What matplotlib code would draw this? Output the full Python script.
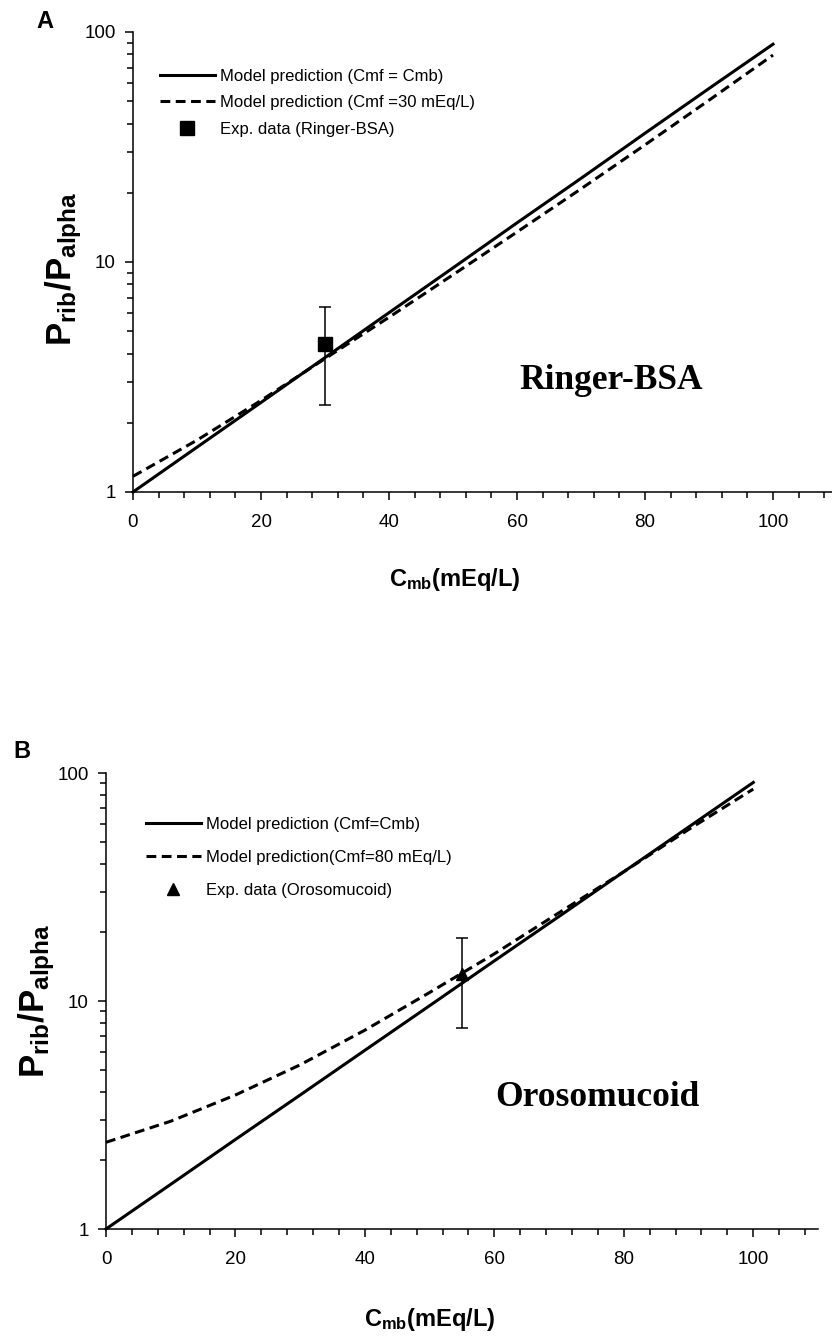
# Import libraries
import matplotlib.pyplot as plt
import numpy as np
from matplotlib.ticker import LogLocator, MultipleLocator, NullFormatter

# --- 1. Global settings ---
plt.rcParams.update({
    'font.family': ['Liberation Sans', 'DejaVu Sans'],
    'mathtext.fontset': 'custom',
    'mathtext.rm': 'Liberation Sans',
    'mathtext.bf': 'Liberation Sans:bold',
    'mathtext.it': 'Liberation Sans:italic',
    'axes.linewidth': 1.1,
})

# --- 2. Data ---
c_mb = [0, 10, 20, 30, 40, 50, 60, 70, 80, 90, 100]

# panel A: Ringer-BSA
a_equal = [1.0, 1.566, 2.45, 3.84, 6.02, 9.43, 14.8, 23.1, 36.3, 56.8, 88.5]
a_cmf30 = [1.17, 1.68, 2.5, 3.8, 5.75, 8.8, 13.5, 20.8, 32.3, 50.5, 79.4]
a_exp_x = [30]
a_exp_y = [4.4]
a_exp_err = [2.0]

# panel B: Orosomucoid
b_equal = [1.0, 1.57, 2.47, 3.87, 6.08, 9.54, 15.0, 23.5, 36.9, 57.9, 90.9]
b_cmf80 = [2.4, 2.97, 3.87, 5.25, 7.45, 10.9, 16.1, 24.4, 36.9, 56.5, 85.0]
b_exp_x = [55]
b_exp_y = [13.2]
b_exp_err = [5.6]

W, H = 832, 1337
fig = plt.figure(figsize=(W / 100, H / 100), dpi=100)
axA = fig.add_axes([133 / W, 1 - 492 / H, 704 / W, 460 / H])
axB = fig.add_axes([106 / W, 1 - 1229 / H, 712 / W, 456 / H])

dash = (0, (3.2, 1.8))


def style_axis(ax):
    ax.set_yscale('log')
    ax.set_xlim(0, 110)
    ax.set_ylim(1, 100)
    ax.spines['top'].set_visible(False)
    ax.spines['right'].set_visible(False)
    ax.set_xticks([0, 20, 40, 60, 80, 100])
    ax.xaxis.set_minor_locator(MultipleLocator(4))
    ax.set_yticks([1, 10, 100], labels=['1', '10', '100'])
    ax.yaxis.set_minor_locator(LogLocator(base=10, subs=np.arange(2, 10)))
    ax.yaxis.set_minor_formatter(NullFormatter())
    ax.tick_params(which='major', direction='out', length=5.5, width=1.1,
                   labelsize=13.5)
    ax.tick_params(which='minor', direction='out', length=4, width=1.1)
    ax.tick_params(axis='x', which='major', pad=10)
    ax.tick_params(axis='y', which='major', pad=7)


# --- 3. Panel A ---
style_axis(axA)
lA1, = axA.plot(c_mb, a_equal, color='black', lw=2.2, clip_on=False)
lA2, = axA.plot(c_mb, a_cmf30, color='black', lw=2.2, ls=dash, clip_on=False)
axA.errorbar(a_exp_x, a_exp_y, yerr=a_exp_err, fmt='none', ecolor='black',
             elinewidth=1.1, capsize=4.5, capthick=1.1)
mA, = axA.plot(a_exp_x, a_exp_y, ls='none', marker='s', ms=10, color='black')
axA.legend([lA1, lA2, mA],
           ['Model prediction (Cmf = Cmb)', 'Model prediction (Cmf =30 mEq/L)',
            'Exp. data (Ringer-BSA)'],
           loc='upper left', bbox_to_anchor=(0.038, 0.92), frameon=False,
           fontsize=12, handlelength=3.3, handletextpad=0.3,
           labelspacing=0.69, borderpad=0, borderaxespad=0)
axA.text(0.679, 0.243, 'Ringer-BSA', transform=axA.transAxes, ha='center',
         va='center', fontsize=25.5, fontweight='bold', family='Liberation Serif')
axA.set_xlabel(r'$\mathbf{C_{mb}(mEq/L)}$', fontsize=17)
axA.xaxis.set_label_coords(0.457, -0.161)
axA.set_ylabel(r'$\mathbf{P_{rib}/P_{alpha}}$', fontsize=25)
axA.yaxis.set_label_coords(-0.07, 0.485)
fig.text(45 / W, 1 - 21 / H, 'A', fontsize=17, fontweight='bold',
         ha='center', va='center')

# --- 4. Panel B ---
style_axis(axB)
lB1, = axB.plot(c_mb, b_equal, color='black', lw=2.2, clip_on=False)
lB2, = axB.plot(c_mb, b_cmf80, color='black', lw=2.2, ls=dash, clip_on=False)
axB.errorbar(b_exp_x, b_exp_y, yerr=b_exp_err, fmt='none', ecolor='black',
             elinewidth=1.1, capsize=4.5, capthick=1.1)
mB, = axB.plot(b_exp_x, b_exp_y, ls='none', marker='^', ms=9, color='black')
axB.legend([lB1, lB2, mB],
           ['Model prediction (Cmf=Cmb)', 'Model prediction(Cmf=80 mEq/L)',
            'Exp. data (Orosomucoid)'],
           loc='upper left', bbox_to_anchor=(0.056, 0.903), frameon=False,
           fontsize=12, handlelength=3.3, handletextpad=0.3,
           labelspacing=1.08, borderpad=0, borderaxespad=0)
axB.text(0.69, 0.289, 'Orosomucoid', transform=axB.transAxes, ha='center',
         va='center', fontsize=25.5, fontweight='bold', family='Liberation Serif')
axB.set_xlabel(r'$\mathbf{C_{mb}(mEq/L)}$', fontsize=17)
axB.xaxis.set_label_coords(0.455, -0.169)
axB.set_ylabel(r'$\mathbf{P_{rib}/P_{alpha}}$', fontsize=25)
axB.yaxis.set_label_coords(-0.069, 0.5)
fig.text(22 / W, 1 - 752 / H, 'B', fontsize=17, fontweight='bold',
         ha='center', va='center')

# Save image
fig.savefig('out.png', dpi=100)
